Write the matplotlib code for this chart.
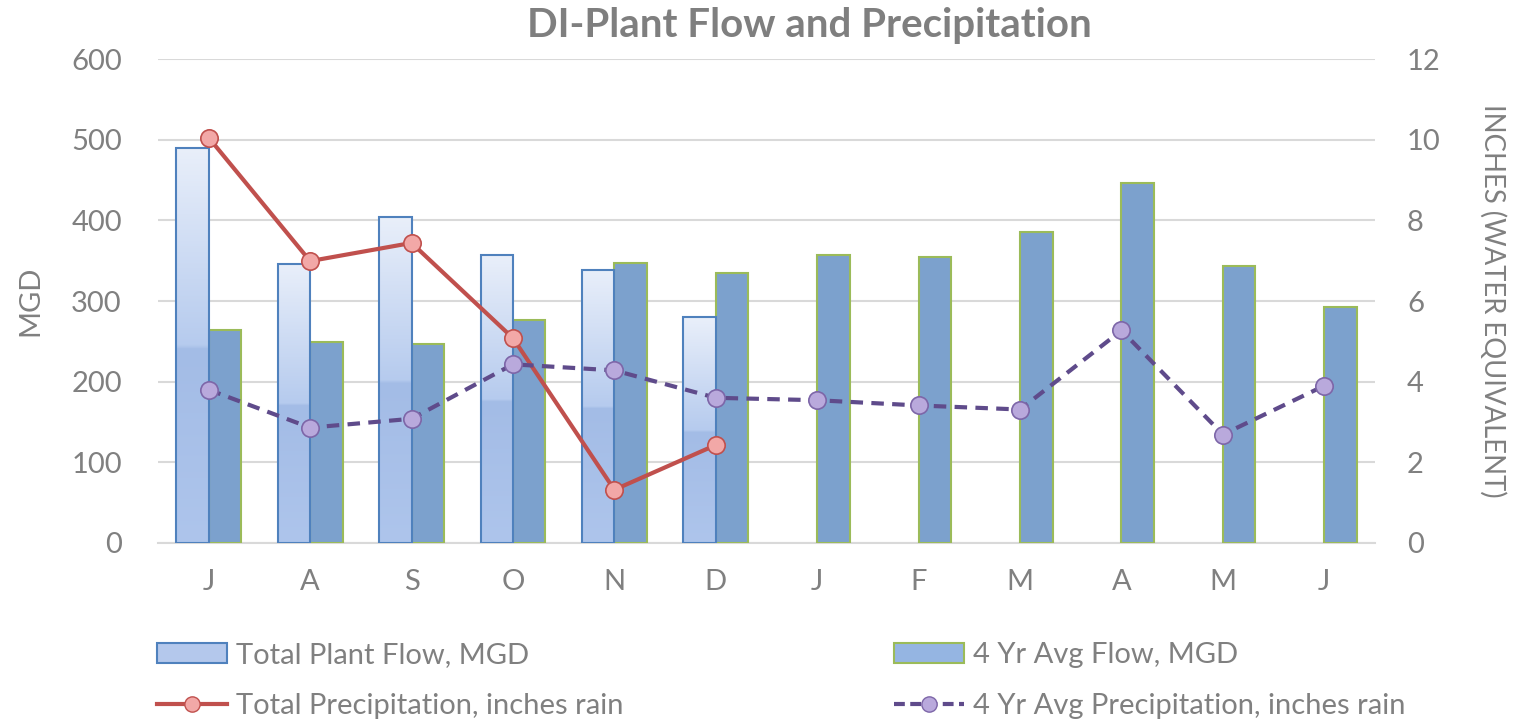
import matplotlib
matplotlib.use("Agg")
import matplotlib.pyplot as plt
import numpy as np
from matplotlib.colors import LinearSegmentedColormap
from matplotlib.lines import Line2D
from matplotlib.patches import Patch

months = ["J", "A", "S", "O", "N", "D", "J", "F", "M", "A", "M", "J"]
total_flow = [490, 346, 404, 357, 339, 280]
avg_flow = [264, 249, 247, 277, 347, 335, 357, 355, 385, 446, 343, 292]
total_precip = [10.05, 6.99, 7.44, 5.08, 1.32, 2.43]
avg_precip = [3.8, 2.86, 3.08, 4.43, 4.28, 3.6, 3.54, 3.41, 3.31, 5.27, 2.69, 3.9]

plt.rcParams["font.family"] = ["Lato", "DejaVu Sans"]
grey = "#808080"

fig = plt.figure(figsize=(15.28, 7.27), dpi=100)
ax = fig.add_axes([0.1034, 0.2531, 0.7965, 0.6657])
ax2 = ax.twinx()

x = np.arange(len(months))
w = 0.32

# 4 yr average flow bars
ax.bar(x + w / 2, avg_flow, width=w, color="#7ca1cd", edgecolor="#9bbb59",
       linewidth=1.5, zorder=3)

# total plant flow bars with a vertical gradient
grad_cmap = LinearSegmentedColormap.from_list("tf", [
    (0.0, "#aec5ec"), (0.49, "#a3bce6"), (0.5, "#b6cbee"), (1.0, "#e9effa")])
xt = x[:len(total_flow)] - w / 2
bars = ax.bar(xt, total_flow, width=w, facecolor="none", edgecolor="#4f81bd",
              linewidth=1.5, zorder=4)
grad = np.linspace(1, 0, 256).reshape(-1, 1)
for b in bars:
    x0, y0 = b.get_x(), b.get_y()
    im = ax.imshow(grad, extent=[x0, x0 + b.get_width(), y0, y0 + b.get_height()],
                   aspect="auto", cmap=grad_cmap, vmin=0, vmax=1, zorder=3.5)
    im.set_clip_path(b)

ax.set_xlim(-0.5, len(months) - 0.5)
ax.set_ylim(0, 600)
ax.set_yticks(range(0, 601, 100))
ax.set_xticks(x)
ax.set_xticklabels(months)
ax.yaxis.grid(True, color="#d9d9d9", linewidth=1.5, zorder=0)
ax.set_axisbelow(True)

# precipitation lines
ax2.plot(x[:len(total_precip)], total_precip, color="#c0504d", linewidth=3,
         marker="o", markersize=12.5, markerfacecolor="#f2a8a7",
         markeredgecolor="#c0504d", markeredgewidth=1.2, zorder=5)
ax2.plot(x, avg_precip, color="#5f4b8b", linewidth=3, linestyle=(0, (3, 2)),
         marker="o", markersize=12.5, markerfacecolor="#b9a9dc",
         markeredgecolor="#7d66a8", markeredgewidth=1.2, zorder=5)
ax2.set_ylim(0, 12)
ax2.set_yticks(range(0, 13, 2))

for a in (ax, ax2):
    for s in a.spines.values():
        s.set_visible(False)
    a.tick_params(length=0, labelsize=21, colors=grey)
ax.spines["bottom"].set_visible(True)
ax.spines["bottom"].set_color("#d9d9d9")
ax.spines["bottom"].set_linewidth(1.5)
ax.tick_params(axis="y", pad=26)
ax.tick_params(axis="x", pad=19)
ax2.tick_params(axis="y", pad=23)

ax.set_ylabel("MGD", fontsize=21, color=grey, labelpad=20)
ax2.set_ylabel("INCHES (WATER EQUIVALENT)", fontsize=19.8, color=grey,
               rotation=-90, labelpad=47)
fig.suptitle("DI-Plant Flow and Precipitation", x=0.53, y=0.99,
             fontsize=29, fontweight="bold", color="#7f7f7f")

handles = [
    Patch(facecolor="#b4c8ec", edgecolor="#4f81bd", linewidth=1.5),
    Line2D([], [], color="#c0504d", linewidth=3, marker="o", markersize=11,
           markerfacecolor="#f2a8a7", markeredgecolor="#c0504d"),
    Patch(facecolor="#95b5e2", edgecolor="#9bbb59", linewidth=1.5),
    Line2D([], [], color="#5f4b8b", linewidth=3, linestyle=(0, (2.6, 1.3)),
           marker="o", markersize=11, markerfacecolor="#b9a9dc",
           markeredgecolor="#7d66a8"),
]
labels = ["Total Plant Flow, MGD", "Total Precipitation, inches rain",
          "4 Yr Avg Flow, MGD", "4 Yr Avg Precipitation, inches rain"]
leg = fig.legend(handles, labels, ncol=2, loc="lower left",
                 bbox_to_anchor=(0.1027, 0.011), frameon=False, fontsize=21,
                 handlelength=2.4, handletextpad=0.3, columnspacing=9.3,
                 labelspacing=0.85, borderpad=0, borderaxespad=0)
for t in leg.get_texts():
    t.set_color(grey)

fig.savefig("out.png", dpi=100)
